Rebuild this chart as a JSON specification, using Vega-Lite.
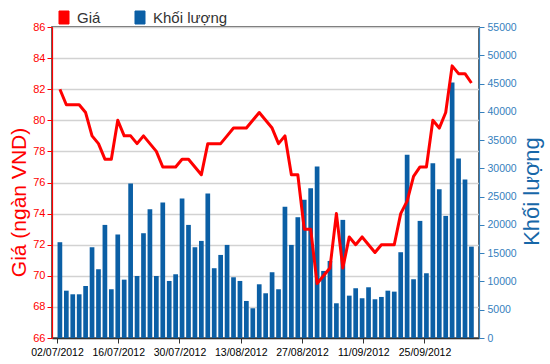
{
  "$schema": "https://vega.github.io/schema/vega-lite/v6.json",
  "width": 427,
  "height": 311,
  "autosize": {"type": "none"},
  "padding": {"left": 52, "top": 27, "right": 71, "bottom": 26},
  "background": "white",
  "config": {
    "view": {"stroke": "#333333", "strokeWidth": 1.5},
    "font": "Liberation Sans"
  },
  "data": {
    "values": [
      {"i": 0, "d": "02/07/2012", "p": 82.0, "v": 16940},
      {"i": 1, "d": "03/07/2012", "p": 81.0, "v": 8370},
      {"i": 2, "d": "04/07/2012", "p": 81.0, "v": 7730},
      {"i": 3, "d": "05/07/2012", "p": 81.0, "v": 7730},
      {"i": 4, "d": "06/07/2012", "p": 80.5, "v": 9200},
      {"i": 5, "d": "09/07/2012", "p": 79.0, "v": 16050},
      {"i": 6, "d": "10/07/2012", "p": 78.5, "v": 12160},
      {"i": 7, "d": "11/07/2012", "p": 77.5, "v": 20000},
      {"i": 8, "d": "12/07/2012", "p": 77.5, "v": 8620},
      {"i": 9, "d": "13/07/2012", "p": 80.0, "v": 18290},
      {"i": 10, "d": "16/07/2012", "p": 79.0, "v": 10320},
      {"i": 11, "d": "17/07/2012", "p": 79.0, "v": 27310},
      {"i": 12, "d": "18/07/2012", "p": 78.5, "v": 10970},
      {"i": 13, "d": "19/07/2012", "p": 79.0, "v": 18530},
      {"i": 14, "d": "20/07/2012", "p": 78.5, "v": 22780},
      {"i": 15, "d": "23/07/2012", "p": 78.0, "v": 10970},
      {"i": 16, "d": "24/07/2012", "p": 77.0, "v": 23950},
      {"i": 17, "d": "25/07/2012", "p": 77.0, "v": 10090},
      {"i": 18, "d": "26/07/2012", "p": 77.0, "v": 11270},
      {"i": 19, "d": "27/07/2012", "p": 77.5, "v": 24660},
      {"i": 20, "d": "30/07/2012", "p": 77.5, "v": 20000},
      {"i": 21, "d": "31/07/2012", "p": 77.0, "v": 16050},
      {"i": 22, "d": "01/08/2012", "p": 76.5, "v": 17170},
      {"i": 23, "d": "02/08/2012", "p": 78.5, "v": 25540},
      {"i": 24, "d": "03/08/2012", "p": 78.5, "v": 12340},
      {"i": 25, "d": "06/08/2012", "p": 78.5, "v": 14690},
      {"i": 26, "d": "07/08/2012", "p": 79.0, "v": 16460},
      {"i": 27, "d": "08/08/2012", "p": 79.5, "v": 10740},
      {"i": 28, "d": "09/08/2012", "p": 79.5, "v": 10090},
      {"i": 29, "d": "10/08/2012", "p": 79.5, "v": 6550},
      {"i": 30, "d": "13/08/2012", "p": 80.0, "v": 5260},
      {"i": 31, "d": "14/08/2012", "p": 80.5, "v": 9500},
      {"i": 32, "d": "15/08/2012", "p": 80.0, "v": 7910},
      {"i": 33, "d": "16/08/2012", "p": 79.5, "v": 11630},
      {"i": 34, "d": "17/08/2012", "p": 78.5, "v": 8620},
      {"i": 35, "d": "20/08/2012", "p": 79.0, "v": 23190},
      {"i": 36, "d": "21/08/2012", "p": 76.5, "v": 16460},
      {"i": 37, "d": "22/08/2012", "p": 76.5, "v": 21360},
      {"i": 38, "d": "23/08/2012", "p": 73.0, "v": 24430},
      {"i": 39, "d": "24/08/2012", "p": 73.0, "v": 26500},
      {"i": 40, "d": "27/08/2012", "p": 69.5, "v": 30320},
      {"i": 41, "d": "28/08/2012", "p": 70.0, "v": 11860},
      {"i": 42, "d": "29/08/2012", "p": 70.5, "v": 13630},
      {"i": 43, "d": "30/08/2012", "p": 74.0, "v": 6140},
      {"i": 44, "d": "31/08/2012", "p": 70.5, "v": 20890},
      {"i": 45, "d": "04/09/2012", "p": 72.5, "v": 7490},
      {"i": 46, "d": "05/09/2012", "p": 72.0, "v": 8800},
      {"i": 47, "d": "06/09/2012", "p": 72.5, "v": 7030},
      {"i": 48, "d": "07/09/2012", "p": 72.0, "v": 8970},
      {"i": 49, "d": "10/09/2012", "p": 71.5, "v": 6850},
      {"i": 50, "d": "11/09/2012", "p": 72.0, "v": 7260},
      {"i": 51, "d": "12/09/2012", "p": 72.0, "v": 8370},
      {"i": 52, "d": "13/09/2012", "p": 72.0, "v": 8200},
      {"i": 53, "d": "14/09/2012", "p": 74.0, "v": 15170},
      {"i": 54, "d": "17/09/2012", "p": 74.8, "v": 32390},
      {"i": 55, "d": "18/09/2012", "p": 76.4, "v": 10390},
      {"i": 56, "d": "19/09/2012", "p": 77.0, "v": 20710},
      {"i": 57, "d": "20/09/2012", "p": 77.0, "v": 11450},
      {"i": 58, "d": "21/09/2012", "p": 80.0, "v": 30920},
      {"i": 59, "d": "24/09/2012", "p": 79.5, "v": 26320},
      {"i": 60, "d": "25/09/2012", "p": 80.5, "v": 21590},
      {"i": 61, "d": "26/09/2012", "p": 83.5, "v": 45190},
      {"i": 62, "d": "27/09/2012", "p": 83.0, "v": 31740},
      {"i": 63, "d": "28/09/2012", "p": 83.0, "v": 28020},
      {"i": 64, "d": "01/10/2012", "p": 82.4, "v": 16160}
    ]
  },
  "encoding": {
    "x": {
      "field": "i",
      "type": "quantitative",
      "scale": {"domain": [-0.45, 64.4], "nice": false, "zero": false},
      "axis": {
        "title": null,
        "values": [-0.45, 9.08, 18.6, 28.13, 37.65, 47.18, 56.7],
        "labelExpr": "datum.value < 4 ? '02/07/2012' : datum.value < 14 ? '16/07/2012' : datum.value < 23 ? '30/07/2012' : datum.value < 33 ? '13/08/2012' : datum.value < 42 ? '27/08/2012' : datum.value < 52 ? '11/09/2012' : '25/09/2012'",
        "labelFlush": false,
        "labelOverlap": false,
        "labelBound": false,
        "labelFontSize": 10.5,
        "labelColor": "#000000",
        "labelPadding": 4,
        "tickColor": "#333333",
        "tickSize": 5,
        "domainColor": "#333333",
        "domainWidth": 1.5,
        "grid": false
      }
    }
  },
  "layer": [
    {
      "mark": {"type": "bar", "width": 4.7},
      "encoding": {
        "y": {
          "field": "v",
          "type": "quantitative",
          "scale": {"domain": [0, 55000], "nice": false},
          "axis": {
            "orient": "right",
            "values": [0, 5000, 10000, 15000, 20000, 25000, 30000, 35000, 40000, 45000, 50000, 55000],
            "format": "d",
            "grid": false,
            "labelColor": "#3580bd",
            "labelFontSize": 10.5,
            "labelPadding": 3,
            "tickColor": "#3580bd",
            "tickSize": 5,
            "domainColor": "#3580bd",
            "domainWidth": 1.2,
            "title": "Khối lượng",
            "titleColor": "#1767a8",
            "titleFontSize": 22,
            "titleFontWeight": "normal",
            "titleAngle": 270,
            "titleAlign": "center",
            "titleBaseline": "middle",
            "titleX": 52,
            "titleY": 164
          }
        },
        "color": {
          "datum": "Khối lượng",
          "type": "nominal",
          "scale": {"domain": ["Giá", "Khối lượng"], "range": ["#ff0000", "#0b5fa5"]},
          "legend": {
            "orient": "none",
            "legendX": 4.5,
            "legendY": -17,
            "direction": "horizontal",
            "title": null,
            "padding": 0,
            "labelFontSize": 15,
            "labelColor": "#333333",
            "labelOffset": 5.5,
            "columnPadding": 32,
            "symbolType": "M-0.77,-1L0.77,-1L0.77,1L-0.77,1Z",
            "symbolSize": 169,
            "symbolStrokeColor": "#444444",
            "symbolStrokeWidth": 1,
            "symbolOpacity": 1
          }
        }
      }
    },
    {
      "mark": {"type": "line", "strokeWidth": 3, "strokeJoin": "round"},
      "encoding": {
        "y": {
          "field": "p",
          "type": "quantitative",
          "scale": {"domain": [66, 86], "nice": false, "zero": false},
          "axis": {
            "orient": "left",
            "values": [66, 68, 70, 72, 74, 76, 78, 80, 82, 84, 86],
            "grid": true,
            "gridColor": "#d2d2d2",
            "gridWidth": 1.5,
            "labelColor": "#ff0000",
            "labelFontSize": 11,
            "labelPadding": 2,
            "tickColor": "#ff0000",
            "tickSize": 5,
            "domainColor": "#ff0000",
            "domainWidth": 1.2,
            "title": "Giá (ngàn VND)",
            "titleColor": "#ff0000",
            "titleFontSize": 21,
            "titleFontWeight": "normal",
            "titleAngle": 270,
            "titleAlign": "center",
            "titleBaseline": "middle",
            "titleX": -33,
            "titleY": 175
          }
        },
        "color": {
          "datum": "Giá",
          "type": "nominal",
          "legend": {
            "orient": "none",
            "legendX": 4.5,
            "legendY": -17,
            "direction": "horizontal",
            "title": null,
            "padding": 0,
            "labelFontSize": 15,
            "labelColor": "#333333",
            "labelOffset": 5.5,
            "columnPadding": 32,
            "symbolType": "M-0.77,-1L0.77,-1L0.77,1L-0.77,1Z",
            "symbolSize": 169,
            "symbolStrokeColor": "#444444",
            "symbolStrokeWidth": 1,
            "symbolOpacity": 1
          }
        }
      }
    }
  ],
  "resolve": {"scale": {"y": "independent"}}
}
